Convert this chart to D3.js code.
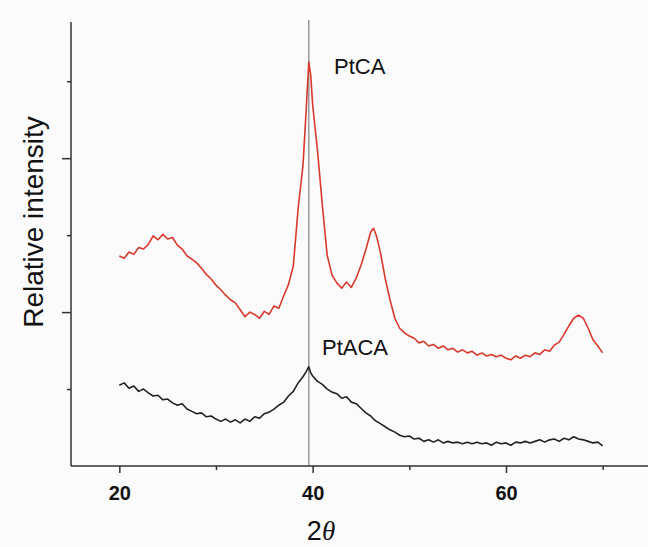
<!DOCTYPE html>
<html>
<head>
<meta charset="utf-8">
<script src="https://cdn.jsdelivr.net/npm/d3@7"></script>
<style>
  body { margin: 0; background: #fbfbfb; }
  svg { display: block; }
</style>
</head>
<body>
<svg id="chart" width="648" height="547"></svg>
<script>
// 2theta positions (degrees)
const angles = [
  20, 20.5, 21, 21.5, 22, 22.5, 23, 23.5, 24, 24.5, 25, 25.5, 26, 26.5, 27, 27.5, 28, 28.5, 29, 29.5,
  30, 30.5, 31, 31.5, 32, 32.5, 33, 33.5, 34, 34.5, 35, 35.5, 36, 36.5, 37, 37.5, 38, 38.5, 39,
  39.3, 39.6, 39.8,
  40, 40.5, 41, 41.5, 42, 42.5, 43, 43.5, 44, 44.5, 45, 45.5, 46,
  46.3, 46.6,
  47, 47.5, 48, 48.5, 49, 49.5, 50, 50.5, 51, 51.5, 52, 52.5, 53, 53.5, 54, 54.5, 55, 55.5,
  56, 56.5, 57, 57.5, 58, 58.5, 59, 59.5, 60, 60.5, 61, 61.5, 62, 62.5, 63, 63.5, 64, 64.5,
  65, 65.5, 66, 66.5, 67, 67.5, 68, 68.5, 69, 69.5, 70
];

// PtCA (red)
const ptca = [
  273, 270, 278, 275, 284, 282, 288, 299, 294, 301, 295, 297, 287, 282, 273, 269, 264, 257, 249, 243,
  235, 229, 222, 216, 212, 203, 194, 200, 197, 192, 201, 197, 208, 205, 221, 236, 260, 335, 391,
  456, 525, 508,
  469, 410, 339, 274, 248, 238, 231, 239, 232, 244, 261, 281, 304,
  309, 299,
  278, 244, 216, 192, 179, 173, 169, 166, 160, 162, 156, 158, 153, 156, 151, 153, 148, 151,
  147, 149, 144, 147, 143, 145, 142, 144, 140, 138, 143, 140, 144, 142, 147, 145, 151, 149,
  157, 161, 171, 182, 192, 196, 192, 179, 164, 156, 147
];

// PtACA (black)
const ptaca = [
  105, 108, 101, 104, 97, 100, 95, 91, 92, 86, 87, 82, 79, 81, 74, 71, 68, 69, 64, 65,
  61, 58, 61, 57, 60, 56, 61, 58, 64, 62, 68, 70, 74, 79, 83, 91, 97, 108, 116,
  122, 129, 121,
  117, 110, 106, 100, 96, 94, 88, 90, 83, 81, 75, 69, 65,
  61, 58,
  55, 51, 47, 44, 40, 38, 39, 35, 36, 32, 34, 31, 34, 30, 32, 30, 31, 29,
  31, 29, 31, 29, 30, 27, 31, 29, 30, 27, 31, 30, 32, 30, 32, 34, 31, 34,
  35, 32, 36, 34, 38, 35, 34, 32, 30, 31, 26
];

const xTicks = [20, 30, 40, 50, 60, 70];
const xLabels = [20, 40, 60];
const yTicks = [100, 200, 300, 400, 500];
const yMajor = [200, 400];
const refLine = 39.6;

const svg = d3.select("#chart");

const x = d3.scaleLinear().domain([15, 75]).range([71, 651]);
const y = d3.scaleLinear().domain([0, 577]).range([466, 22]);

// reference line at Pt(111)
svg.append("line")
  .attr("x1", x(refLine)).attr("x2", x(refLine))
  .attr("y1", 20).attr("y2", y(0))
  .attr("stroke", "#9a9a9a")
  .attr("stroke-width", 1.5);

const line = d3.line()
  .x((d, i) => x(angles[i]))
  .y((d) => y(d));

svg.append("path")
  .datum(ptca)
  .attr("d", line)
  .attr("fill", "none")
  .attr("stroke", "#d8392c")
  .attr("stroke-width", 1.6)
  .attr("stroke-linejoin", "round");

svg.append("path")
  .datum(ptaca)
  .attr("d", line)
  .attr("fill", "none")
  .attr("stroke", "#222")
  .attr("stroke-width", 1.6)
  .attr("stroke-linejoin", "round");

// x axis
const xAxis = svg.append("g")
  .attr("transform", `translate(0,${y(0)})`)
  .call(d3.axisBottom(x).tickValues(xTicks).tickSize(0).tickFormat(""));
xAxis.select(".domain").attr("d", `M${x(15)},0H648`).attr("stroke", "#333").attr("stroke-width", 1.5);
xAxis.selectAll(".tick line")
  .attr("y2", (d) => (xLabels.includes(d) ? 7 : 4))
  .attr("stroke", "#333")
  .attr("stroke-width", 1.5);
xAxis.selectAll(".tick text")
  .filter((d) => xLabels.includes(d))
  .text((d) => d)
  .attr("y", 20)
  .attr("dy", "0.71em")
  .attr("font-size", 20)
  .attr("font-weight", "bold")
  .attr("font-family", "'Liberation Sans', Arial, sans-serif")
  .attr("fill", "#111");

// y axis
const yAxis = svg.append("g")
  .attr("transform", `translate(${x(15)},0)`)
  .call(d3.axisLeft(y).tickValues(yTicks).tickSize(0).tickFormat(""));
yAxis.select(".domain").attr("d", `M0,${y(577)}V${y(0)}`).attr("stroke", "#333").attr("stroke-width", 1.5);
yAxis.selectAll(".tick line")
  .attr("x2", (d) => (yMajor.includes(d) ? -9 : -4))
  .attr("stroke", "#333")
  .attr("stroke-width", 1.5);

// titles
svg.append("text")
  .attr("transform", "translate(43,222) rotate(-90)")
  .attr("text-anchor", "middle")
  .style("font", "28px 'Liberation Sans', Arial, sans-serif")
  .attr("fill", "#111")
  .text("Relative intensity");

const xt = svg.append("text")
  .attr("x", 321)
  .attr("y", 540)
  .attr("text-anchor", "middle")
  .style("font", "27px 'Liberation Sans', Arial, sans-serif")
  .attr("fill", "#111");
xt.append("tspan").text("2");
xt.append("tspan")
  .style("font-family", "'Liberation Serif', 'DejaVu Serif', serif")
  .style("font-style", "italic")
  .text("θ");

// series labels
svg.append("text")
  .attr("x", 334).attr("y", 74)
  .style("font", "22px 'Liberation Sans', Arial, sans-serif")
  .attr("fill", "#111")
  .text("PtCA");

svg.append("text")
  .attr("x", 322).attr("y", 355)
  .style("font", "22px 'Liberation Sans', Arial, sans-serif")
  .attr("fill", "#111")
  .text("PtACA");
</script>
</body>
</html>
